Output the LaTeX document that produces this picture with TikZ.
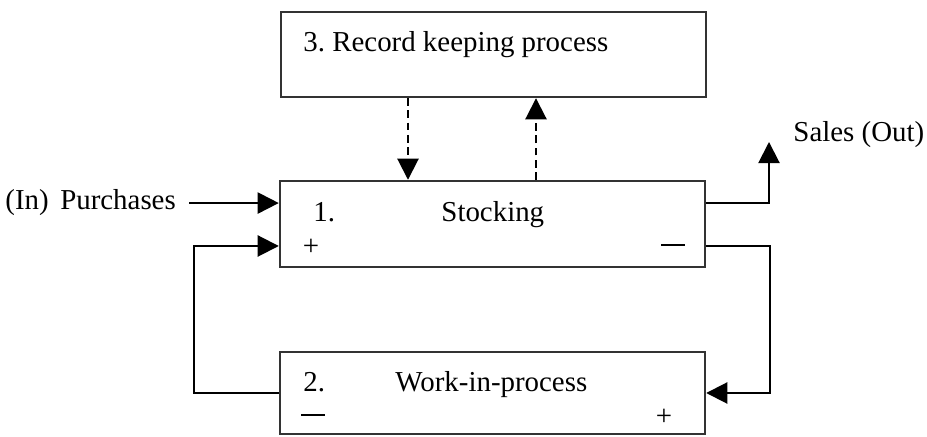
\documentclass[tikz,border=0pt]{standalone}
\usepackage{fontspec}
\setmainfont{Liberation Serif}
\usetikzlibrary{arrows.meta,calc}

\tikzset{
  procbox/.style={draw=black!80, line width=1.1pt, inner sep=0pt,
    minimum width=191.25pt, minimum height=38.7pt},
  flow/.style={line width=0.9pt, -{Triangle[length=9.5pt,width=9.5pt]}},
  lbl/.style={inner sep=0pt, anchor=base west, font=\fontsize{13}{15}\selectfont},
  sign/.style={inner sep=0pt, font=\fontsize{13}{15}\selectfont}
}
\newcommand{\negsign}{\rule{10.5pt}{1.2pt}}

\begin{document}
\begin{tikzpicture}[x=0.45pt,y=-0.45pt]
        \useasboundingbox (0,0) rectangle (927,437);

        % the three processes
        \node[procbox, minimum height=38.25pt] (rec) at (493.5,54.5) {};
        \node[procbox] (stock) at (492.5,224) {};
        \node[procbox, minimum height=36.9pt] (wip) at (492.5,393) {};

        \node[lbl] (rectxt) at (303,52) {3.\hspace{0.25em}Record keeping process};
        \node[lbl] (stocknum) at (313,222) {1.};
        \node[lbl] (stocktxt) at (441,222) {Stocking};
        \node[lbl] (wipnum) at (303,392) {2.};
        \node[lbl] (wiptxt) at (395,392) {Work-in-process};

        \node[sign] (stockplus) at (311,247) {+};
        \node[sign] (stockminus) at (673,245) {\negsign};
        \node[sign] (wipminus) at (313,415) {\negsign};
        \node[sign] (wipplus) at (664,417) {+};

        % in and out
        \node[lbl] (intxt) at (5,210) {(In)\hspace{0.4em}Purchases};
        \node[lbl] (outtxt) at (793,142) {Sales (Out)};

        \coordinate (salestip) at (769,142);
        \coordinate (dn) at (408,0);
        \coordinate (up) at (536,0);

        \draw[flow] ($(intxt.east)+(13,0)$) -- (intxt.east -| stock.west);
        \draw[flow] ($(stock.east)+(0,-21)$) -| (salestip);

        % feedback loops
        \draw[flow] (wip.west) -| ($(stock.west)+(-85,22)$) -- ($(stock.west)+(0,22)$);
        \draw[flow] ($(stock.east)+(0,22)$) -| ($(wip.east)+(64,0)$) -- (wip.east);

        % record keeping
        \draw[flow, dash pattern=on 3.5pt off 2pt] (rec.south -| dn) -- (stock.north -| dn);
        \draw[flow, dash pattern=on 3.5pt off 2pt] (stock.north -| up) -- (rec.south -| up);
      \end{tikzpicture}
\end{document}
